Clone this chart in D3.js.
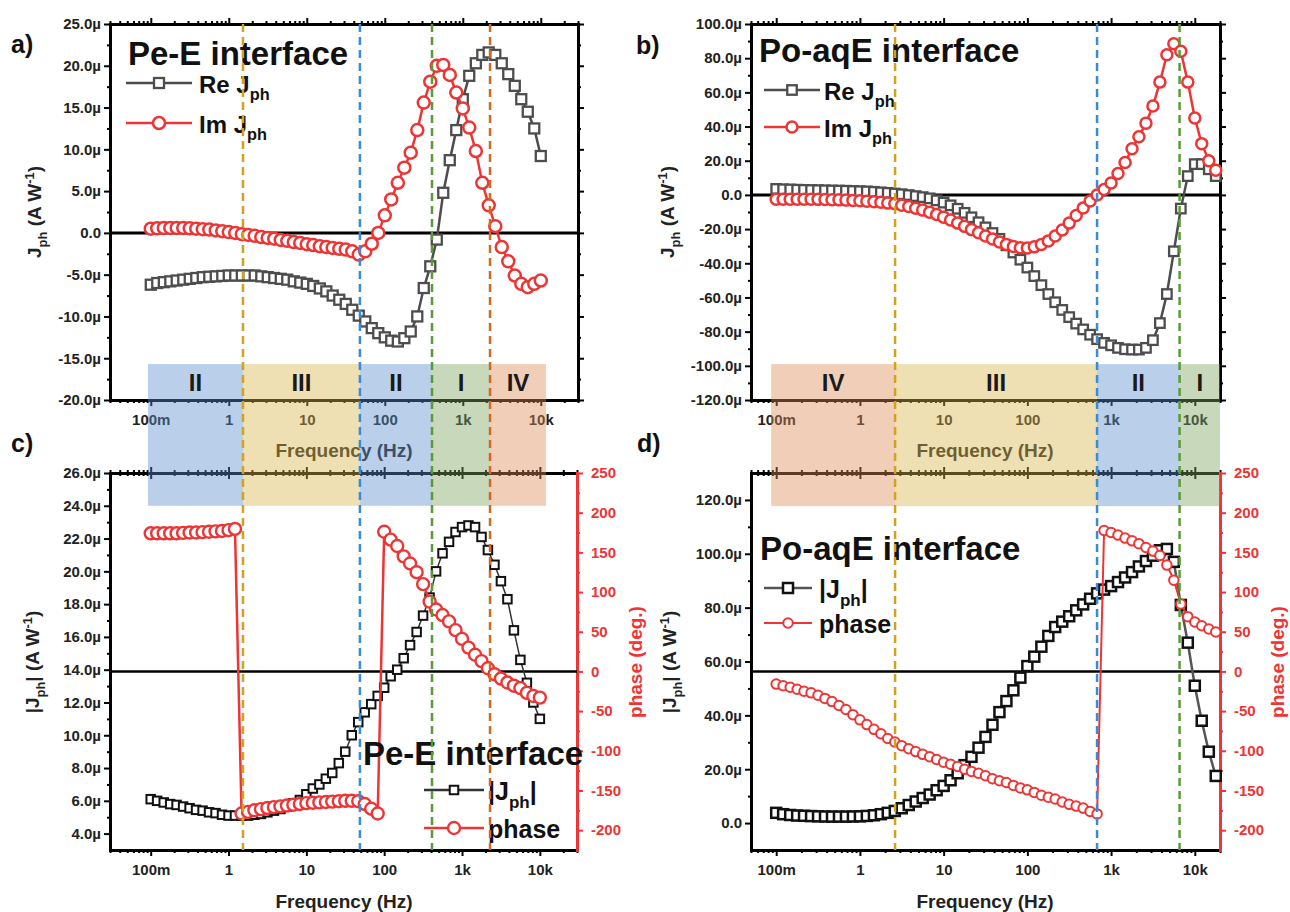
<!DOCTYPE html>
<html>
<head>
<meta charset="utf-8">
<script src="https://cdn.jsdelivr.net/npm/d3@7"></script>
<style>
  body { margin: 0; background: #fff; }
  svg { display: block; }
</style>
</head>
<body>
<svg id="chart" width="1290" height="912"></svg>
<script>
// ---------- data ----------
// frequencies in Hz, 12 points per decade
const freqA = [0.1, 0.121, 0.147, 0.178, 0.215, 0.261, 0.316, 0.383, 0.464, 0.562, 0.681, 0.825,
  1, 1.21, 1.47, 1.78, 2.15, 2.61, 3.16, 3.83, 4.64, 5.62, 6.81, 8.25,
  10, 12.1, 14.7, 17.8, 21.5, 26.1, 31.6, 38.3, 46.4, 56.2, 68.1, 82.5,
  100, 121, 147, 178, 215, 261, 316, 383, 464, 562, 681, 825,
  1000, 1210, 1470, 1780, 2150, 2610, 3160, 3830, 4640, 5620, 6810, 8250, 10000];
const freqB = [0.1, 0.121, 0.147, 0.178, 0.215, 0.261, 0.316, 0.383, 0.464, 0.562, 0.681, 0.825,
  1, 1.21, 1.47, 1.78, 2.15, 2.61, 3.16, 3.83, 4.64, 5.62, 6.81, 8.25,
  10, 12.1, 14.7, 17.8, 21.5, 26.1, 31.6, 38.3, 46.4, 56.2, 68.1, 82.5,
  100, 121, 147, 178, 215, 261, 316, 383, 464, 562, 681, 825,
  1000, 1210, 1470, 1780, 2150, 2610, 3160, 3830, 4640, 5620, 6810, 8250,
  10000, 12100, 14700, 17800];

// a) Pe-E interface, Jph in µA/W
const reA = [-6.2, -6.0, -5.9, -5.8, -5.7, -5.6, -5.5, -5.4, -5.3, -5.25, -5.2, -5.15,
  -5.1, -5.1, -5.1, -5.1, -5.1, -5.2, -5.3, -5.4, -5.5, -5.6, -5.8, -5.95,
  -6.1, -6.35, -6.65, -7.0, -7.5, -8.0, -8.5, -9.2, -9.9, -10.6, -11.4, -12.0,
  -12.5, -12.9, -13.0, -12.6, -11.8, -10.0, -6.6, -4.0, -0.8, 4.8, 8.7, 12.3,
  16.0, 18.8, 20.3, 21.3, 21.6, 21.3, 20.3, 19.0, 17.6, 16.0, 14.5, 12.5, 9.2];
const imA = [0.5, 0.55, 0.6, 0.6, 0.6, 0.6, 0.55, 0.5, 0.45, 0.4, 0.3, 0.2,
  0.1, 0.0, -0.15, -0.25, -0.35, -0.5, -0.6, -0.7, -0.85, -0.95, -1.1, -1.2,
  -1.35, -1.45, -1.6, -1.7, -1.8, -1.9, -2.0, -2.2, -2.6, -2.2, -1.3, 0.0,
  2.1, 4.0, 6.0, 7.8, 9.6, 12.3, 15.6, 18.1, 20.0, 20.1, 18.9, 16.8,
  14.9, 12.6, 9.8, 6.0, 3.3, 0.8, -1.7, -3.4, -5.1, -6.1, -6.5, -6.1, -5.7];

// b) Po-aqE interface
const reB = [3.5, 3.3, 3.2, 3.05, 2.95, 2.85, 2.8, 2.7, 2.6, 2.55, 2.45, 2.3,
  2.2, 2.05, 1.8, 1.5, 1.2, 0.8, 0.4, -0.1, -0.7, -1.3, -2.0, -3.2,
  -4.5, -6.1, -8.1, -10.5, -13.1, -16.0, -19.0, -22.3, -25.7, -29.5, -33.7, -37.9,
  -42.5, -47.5, -52.8, -58.0, -62.8, -67.3, -71.5, -75.3, -78.7, -81.8, -84.4, -86.6,
  -88.0, -89.5, -90.3, -90.5, -90.5, -89.5, -85.0, -75.0, -58.0, -33.0, -8.0, 11.0,
  18.0, 18.0, 15.0, 11.0];
const imB = [-2.5, -2.5, -2.5, -2.5, -2.5, -2.55, -2.6, -2.7, -2.8, -2.9, -3.05, -3.2,
  -3.4, -3.65, -4.0, -4.35, -4.8, -5.2, -6.0, -6.8, -7.8, -8.9, -10.1, -11.5,
  -13.0, -14.7, -16.5, -18.4, -20.3, -22.2, -24.0, -25.8, -27.6, -29.0, -30.2, -30.9,
  -31.0, -30.4, -29.0, -26.9, -24.1, -20.5, -16.5, -12.1, -7.6, -3.6, 0.0, 3.2,
  7.0, 12.5, 19.0, 27.0, 34.0, 42.0, 52.0, 66.0, 82.0, 88.5, 84.0, 66.0,
  45.0, 30.0, 20.0, 14.5];

// c) Pe-E interface, |Jph| (µA/W) and phase (deg.)
const magC = [6.1, 6.0, 5.9, 5.8, 5.75, 5.65, 5.55, 5.45, 5.4, 5.3, 5.25, 5.15,
  5.1, 5.1, 5.1, 5.1, 5.15, 5.2, 5.3, 5.4, 5.5, 5.65, 5.85, 6.05,
  6.4, 6.75, 7.0, 7.35, 7.7, 8.3, 9.0, 10.0, 10.8, 11.4, 11.9, 12.4,
  12.9, 13.6, 14.0, 14.7, 15.5, 16.3, 17.3, 18.4, 20.0, 21.1, 21.8, 22.4,
  22.7, 22.8, 22.7, 22.1, 21.3, 20.4, 19.4, 18.3, 16.4, 14.6, 13.2, 12.0, 11.0];
const phaseC = [174, 174, 174, 174, 174, 174.5, 175, 175, 175.5, 176, 176.5, 177,
  178, 179.5, -179, -177, -175, -173.5, -172, -171, -170, -169, -168, -167,
  -166, -165.5, -165, -164.5, -164, -163.5, -163, -163, -163.5, -167, -173, -179,
  176, 166, 158, 145, 136, 125, 110, 88, 78, 71, 63, 52,
  41, 30, 21, 13, 4, -3.5, -9, -14, -18, -21, -27, -31, -33];

// d) Po-aqE interface
const magD = [3.8, 3.3, 3.0, 2.8, 2.7, 2.6, 2.5, 2.45, 2.4, 2.4, 2.4, 2.45,
  2.5, 2.65, 2.9, 3.3, 3.8, 4.5, 5.5, 6.7, 8.0, 9.3, 10.6, 12.2,
  13.8, 15.9, 18.5, 21.5, 24.6, 28.0, 32.0, 36.5, 41.2, 45.3, 49.3, 54.0,
  58.3, 61.8, 65.5, 69.5, 72.8, 74.8, 76.8, 79.0, 81.2, 83.3, 85.3, 86.7,
  88.0, 89.5, 91.2, 93.2, 95.3, 97.3, 99.3, 101.3, 101.8, 97.0, 81.0, 67.0,
  51.0, 38.0, 26.5, 17.5];
const phaseD = [-16, -18, -20, -22.5, -25, -27, -30, -34, -38, -43, -48, -54.5,
  -61, -67, -73, -78.5, -84.5, -89, -93.5, -97.5, -101, -104.5, -107.5, -111,
  -114.5, -117, -119.8, -123.3, -126, -128.3, -131.5, -135.2, -137.7, -140, -143.6, -146.8,
  -149.2, -152.4, -156, -158.6, -160.8, -164.5, -167.5, -169.7, -172.2, -176.4, -179.5, 177.5,
  175, 171.8, 168, 164.5, 161, 156.2, 151.6, 146, 134, 115, 85, 69,
  62.3, 57.5, 53.5, 49.7];

// frequency regions (edges in Hz) and their names
const edgesA = [0.092, 1.52, 48, 403, 2235, 11670];
const regionsA = ['II', 'III', 'II', 'I', 'IV'];
const edgesB = [0.087, 2.63, 680, 6580, 20000];
const regionsB = ['IV', 'III', 'II', 'I'];

// axis ticks
const decades = [0.1, 1, 10, 100, 1000, 10000];
const decadeLabels = ['100m', '1', '10', '100', '1k', '10k'];
const ticksA = [-20, -15, -10, -5, 0, 5, 10, 15, 20, 25];
const ticksB = [-120, -100, -80, -60, -40, -20, 0, 20, 40, 60, 80, 100];
const ticksC = [4, 6, 8, 10, 12, 14, 16, 18, 20, 22, 24, 26];
const ticksD = [0, 20, 40, 60, 80, 100, 120];
const ticksPhase = [-200, -150, -100, -50, 0, 50, 100, 150, 200, 250];

// ---------- styles ----------
const FONT = '"Liberation Sans", Arial, Helvetica, sans-serif';
const RED = '#ee3434';
const GRAY = '#4d4d4d';
const REGION_FILL = { I: '#7aa35e', II: '#5b8fcc', III: '#d9b54a', IV: '#dc8a55' };
const REGION_LINE = { I: '#5a9a38', II: '#3a8bd6', III: '#d1a21c', IV: '#d2691e' };

const svg = d3.select('#chart').attr('font-family', FONT);

// ---------- scales ----------
const xA = d3.scaleLog().domain([0.03, 30000]).range([110, 578]);
const yA = d3.scaleLinear().domain([-20, 25]).range([400, 24]);
const xB = d3.scaleLog().domain([0.05, 20000]).range([751, 1220]);
const yB = d3.scaleLinear().domain([-120, 100]).range([400, 24]);
const xC = d3.scaleLog().domain([0.03, 30000]).range([110, 577]);
const yC = d3.scaleLinear().domain([3, 26]).range([850, 473]);
const pC = d3.scaleLinear().domain([-225, 250]).range([850, 473]);
const xD = d3.scaleLog().domain([0.05, 20000]).range([751, 1220]);
const yD = d3.scaleLinear().domain([-10, 130]).range([850, 473]);
const pD = d3.scaleLinear().domain([-225, 250]).range([850, 473]);

const freqLabel = d => decadeLabels[decades.indexOf(d)];
const microLabel = d => (d === 0 ? '0.0' : d.toFixed(1) + 'µ');

// ---------- helpers ----------
function addAxis(g, axis, transform, color, noDomain) {
  const a = g.append('g').attr('transform', transform).call(axis);
  if (noDomain) a.select('.domain').remove();
  a.select('.domain').attr('stroke', color).attr('stroke-width', 3).attr('stroke-linecap', 'square');
  a.selectAll('.tick line').attr('stroke', color).attr('stroke-width', 2);
  a.selectAll('.tick text')
    .attr('fill', color === 'black' ? '#222' : color)
    .attr('font-family', FONT)
    .attr('font-size', 15)
    .attr('font-weight', 'bold');
  return a;
}

function minorY(ticks) {
  const step = (ticks[1] - ticks[0]) / 2;
  return ticks.slice(0, -1).map(d => d + step);
}

// frame with 4 axes; right axis is either a mirror or a phase axis
function drawFrame(x, y, yTicks, opt) {
  const g = svg.append('g');
  const [x0, x1] = x.range();
  const [y1, y0] = y.range();
  const minorX = x.ticks().filter(d => !decades.includes(d));

  // bottom
  addAxis(g, d3.axisBottom(x).tickValues(minorX).tickFormat('').tickSize(3).tickSizeOuter(0), `translate(0,${y1})`, 'black', true);
  addAxis(g, d3.axisBottom(x).tickValues(decades).tickFormat(freqLabel).tickSize(6).tickPadding(8).tickSizeOuter(0), `translate(0,${y1})`, 'black');

  // top (c/d: ticks on both sides)
  addAxis(g, d3.axisTop(x).tickValues(minorX).tickFormat('').tickSize(3).tickSizeOuter(0), `translate(0,${y0})`, 'black', true);
  addAxis(g, d3.axisTop(x).tickValues(decades).tickFormat('').tickSize(6).tickSizeOuter(0), `translate(0,${y0})`, 'black');
  if (opt.topBoth) {
    addAxis(g, d3.axisBottom(x).tickValues(minorX).tickFormat('').tickSize(3).tickSizeOuter(0), `translate(0,${y0})`, 'black', true);
    addAxis(g, d3.axisBottom(x).tickValues(decades).tickFormat('').tickSize(6).tickSizeOuter(0), `translate(0,${y0})`, 'black', true);
  }

  // left
  addAxis(g, d3.axisLeft(y).tickValues(minorY(yTicks)).tickFormat('').tickSize(3).tickSizeOuter(0), `translate(${x0},0)`, 'black', true);
  addAxis(g, d3.axisLeft(y).tickValues(yTicks).tickFormat(microLabel).tickSize(6).tickPadding(3).tickSizeOuter(0), `translate(${x0},0)`, 'black');

  // right
  if (opt.phase) {
    const p = opt.phase;
    addAxis(g, d3.axisRight(p).tickValues(minorY(ticksPhase)).tickFormat('').tickSize(3).tickSizeOuter(0), `translate(${x1},0)`, RED, true);
    addAxis(g, d3.axisRight(p).tickValues(ticksPhase).tickFormat(d => String(d)).tickSize(6).tickPadding(8).tickSizeOuter(0), `translate(${x1},0)`, RED);
  } else {
    addAxis(g, d3.axisRight(y).tickValues(minorY(yTicks)).tickFormat('').tickSize(3).tickSizeOuter(0), `translate(${x1},0)`, 'black', true);
    addAxis(g, d3.axisRight(y).tickValues(yTicks).tickFormat('').tickSize(6).tickSizeOuter(0), `translate(${x1},0)`, 'black');
  }

  // zero line
  const zy = opt.phase ? opt.phase(0) : y(0);
  g.append('line').attr('x1', x0).attr('x2', x1).attr('y1', zy).attr('y2', zy)
    .attr('stroke', 'black').attr('stroke-width', opt.phase ? 2.5 : 3);
  return g;
}

// text with sub/superscript parts: [[text, 'sub'|'sup'|undefined], ...]
function richText(g, x, y, parts, size, color, transform) {
  const t = g.append('text')
    .attr('x', x).attr('y', y)
    .attr('font-size', size).attr('font-weight', 'bold')
    .attr('fill', color).attr('font-family', FONT);
  if (transform) t.attr('transform', transform);
  let shift = 0;
  parts.forEach(([s, kind]) => {
    const target = kind === 'sub' ? 0.3 * size : kind === 'sup' ? -0.38 * size : 0;
    t.append('tspan')
      .attr('dy', target - shift)
      .attr('font-size', kind ? size * 0.68 : size)
      .text(s);
    shift = target;
  });
  return t;
}

function series(g, x, y, freqs, vals, o) {
  const pts = freqs.map((f, i) => [x(f), y(vals[i])]);
  g.append('path').attr('d', d3.line()(pts))
    .attr('fill', 'none').attr('stroke', o.line).attr('stroke-width', o.lw);
  marks(g, pts, o);
}

function marks(g, pts, o) {
  if (o.shape === 'square') {
    g.selectAll(null).data(pts).join('rect')
      .attr('x', d => d[0] - o.size / 2).attr('y', d => d[1] - o.size / 2)
      .attr('width', o.size).attr('height', o.size)
      .attr('fill', 'white').attr('stroke', o.color).attr('stroke-width', o.sw);
  } else {
    g.selectAll(null).data(pts).join('circle')
      .attr('cx', d => d[0]).attr('cy', d => d[1]).attr('r', o.size / 2)
      .attr('fill', 'white').attr('stroke', o.color).attr('stroke-width', o.sw);
  }
}

function legendEntry(g, xa, xb, y, o, parts, tx, size) {
  g.append('line').attr('x1', xa).attr('x2', xb).attr('y1', y).attr('y2', y)
    .attr('stroke', o.line).attr('stroke-width', o.lw);
  marks(g, [[(xa + xb) / 2, y]], o);
  richText(g, tx, y + 10, parts, size, '#111');
}

// series styles
const reStyle = { shape: 'square', color: GRAY, line: GRAY, lw: 2.5, size: 10, sw: 2.3 };
const imStyle = { shape: 'circle', color: RED, line: RED, lw: 2.5, size: 12, sw: 2.5 };
const magStyleC = { shape: 'square', color: '#111', line: '#333', lw: 1.5, size: 8.5, sw: 2 };
const phStyleC = { shape: 'circle', color: RED, line: RED, lw: 2.5, size: 12, sw: 2.4 };
const magStyleD = { shape: 'square', color: '#111', line: '#555', lw: 2.5, size: 10, sw: 2.5 };
const phStyleD = { shape: 'circle', color: RED, line: RED, lw: 2, size: 9.5, sw: 2 };

// ---------- panels c and d (lower) ----------
const gC = drawFrame(xC, yC, ticksC, { phase: pC, topBoth: true });
series(gC, xC, yC, freqA, magC, magStyleC);
series(gC, xC, pC, freqA, phaseC, phStyleC);

const gD = drawFrame(xD, yD, ticksD, { phase: pD, topBoth: true });
series(gD, xD, yD, freqB, magD, magStyleD);
series(gD, xD, pD, freqB, phaseD, phStyleD);

// ---------- panels a and b (upper) ----------
const gA = drawFrame(xA, yA, ticksA, {});
series(gA, xA, yA, freqA, reA, reStyle);
series(gA, xA, yA, freqA, imA, imStyle);

const gB = drawFrame(xB, yB, ticksB, {});
series(gB, xB, yB, freqB, reB, { ...reStyle, size: 9.5 });
series(gB, xB, yB, freqB, imB, { ...imStyle, size: 11 });

// ---------- axis titles ----------
const titles = svg.append('g');
const freqTitle = (x, y) => titles.append('text').attr('x', x).attr('y', y)
  .attr('text-anchor', 'middle').attr('font-size', 19).attr('font-weight', 'bold')
  .attr('fill', '#222').text('Frequency (Hz)');
freqTitle(344, 457);
freqTitle(985, 457);
freqTitle(344, 908);
freqTitle(985, 908);

const jphParts = [['J'], ['ph', 'sub'], [' (A W'], ['-1', 'sup'], [')']];
const absParts = [['|J'], ['ph', 'sub'], ['| (A W'], ['-1', 'sup'], [')']];
richText(titles, 0, 0, jphParts, 19, '#222', 'translate(41,212) rotate(-90)').attr('text-anchor', 'middle');
richText(titles, 0, 0, jphParts, 19, '#222', 'translate(674,212) rotate(-90)').attr('text-anchor', 'middle');
richText(titles, 0, 0, absParts, 19, '#222', 'translate(39,662) rotate(-90)').attr('text-anchor', 'middle');
richText(titles, 0, 0, absParts, 19, '#222', 'translate(676,662) rotate(-90)').attr('text-anchor', 'middle');
[642, 1284].forEach(tx => titles.append('text')
  .attr('transform', `translate(${tx},662) rotate(-90)`)
  .attr('text-anchor', 'middle').attr('font-size', 19).attr('font-weight', 'bold')
  .attr('fill', RED).text('phase (deg.)'));

// panel letters
[['a)', 11, 53], ['b)', 636, 54], ['c)', 11, 452], ['d)', 637, 452]].forEach(([s, x, y]) =>
  titles.append('text').attr('x', x).attr('y', y).attr('font-size', 25)
    .attr('font-weight', 'bold').attr('fill', '#111').text(s));

// ---------- legends ----------
const leg = svg.append('g');
const bigTitle = (x, y, s) => leg.append('text').attr('x', x).attr('y', y)
  .attr('font-size', 33).attr('font-weight', 'bold').attr('fill', '#111').text(s);

bigTitle(128, 65, 'Pe-E interface');
legendEntry(leg, 126, 192, 83, reStyle, [['Re J'], ['ph', 'sub']], 199, 24);
legendEntry(leg, 126, 192, 123, imStyle, [['Im J'], ['ph', 'sub']], 199, 24);

bigTitle(759, 62, 'Po-aqE interface');
legendEntry(leg, 764, 820, 90, { ...reStyle, size: 9.5 }, [['Re J'], ['ph', 'sub']], 824, 24);
legendEntry(leg, 764, 820, 127, { ...imStyle, size: 11 }, [['Im J'], ['ph', 'sub']], 824, 24);

bigTitle(363, 765, 'Pe-E interface');
legendEntry(leg, 424, 484, 790, { ...magStyleC, lw: 2.5 }, [['|J'], ['ph', 'sub'], ['|']], 488, 25);
legendEntry(leg, 424, 484, 828, phStyleC, [['phase']], 488, 25);

bigTitle(760, 560, 'Po-aqE interface');
legendEntry(leg, 764, 812, 588, magStyleD, [['|J'], ['ph', 'sub'], ['|']], 819, 25);
legendEntry(leg, 764, 812, 623, phStyleD, [['phase']], 819, 25);

// ---------- frequency regions ----------
function regions(x, edges, names, yTop, yBottom, yTopFrame, yBottomFrame, yLabel) {
  const g = svg.append('g');
  names.forEach((name, i) => {
    const xa = x(edges[i]), xb = x(edges[i + 1]);
    g.append('rect').attr('x', xa).attr('y', yTop).attr('width', xb - xa).attr('height', yBottom - yTop)
      .attr('fill', REGION_FILL[name]).attr('fill-opacity', 0.42);
    g.append('text').attr('x', (xa + xb) / 2).attr('y', yLabel)
      .attr('text-anchor', 'middle').attr('font-size', 24).attr('font-weight', 'bold')
      .attr('fill', '#1a1a1a').text(name);
  });
  // dashed boundaries, coloured like the region to their right
  names.slice(1).forEach((name, i) => {
    const xv = x(edges[i + 1]);
    g.append('line').attr('x1', xv).attr('x2', xv).attr('y1', yTopFrame).attr('y2', yBottomFrame)
      .attr('stroke', REGION_LINE[name]).attr('stroke-width', 2.5).attr('stroke-dasharray', '8,5');
  });
}

regions(xA, edgesA, regionsA, yA(-15.7), yC(24.0), yA(25), yC(3), 391);
regions(xB, edgesB, regionsB, yB(-99), yD(117.7), yB(100), yD(-10), 391);
</script>
</body>
</html>
